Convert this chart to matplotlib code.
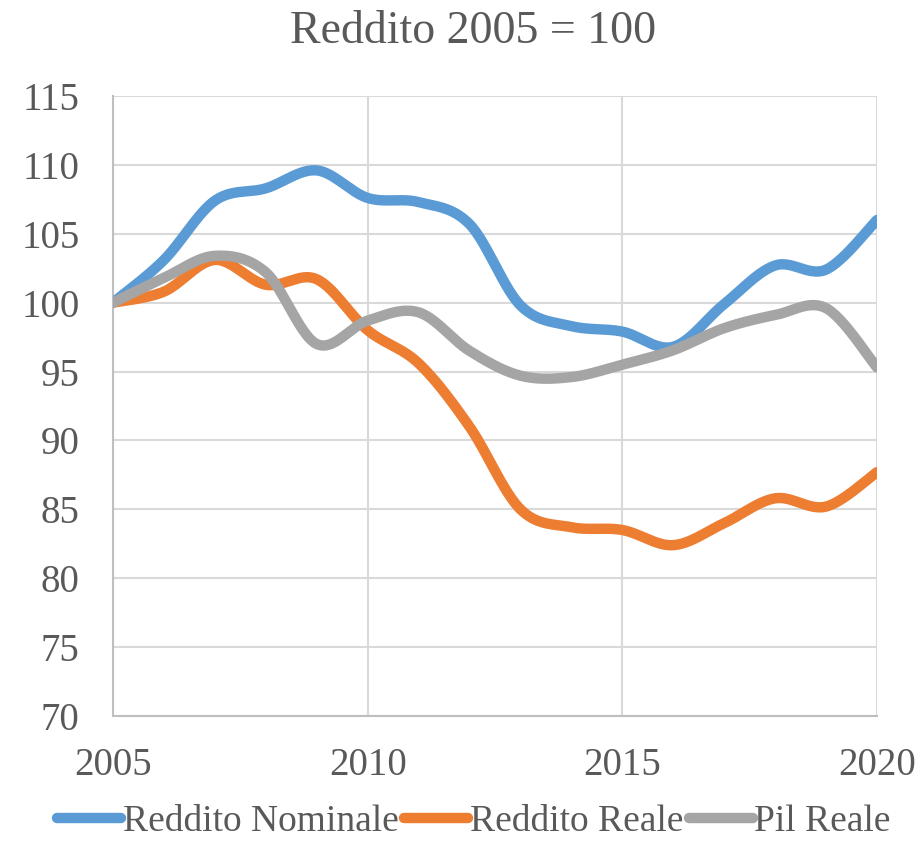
import numpy as np
import matplotlib
matplotlib.use("Agg")
from matplotlib import pyplot as plt

plt.rcParams['font.family'] = ['Liberation Serif', 'DejaVu Serif']

# Data (index, 2005 = 100)
years = list(range(2005, 2021))
nominale = [100, 103.1, 107.4, 108.3, 109.6, 107.6, 107.3, 105.7, 99.8, 98.3,
            97.9, 96.8, 99.9, 102.7, 102.4, 106.0]
reale = [100, 100.8, 103.1, 101.3, 101.7, 98.0, 95.6, 91.0, 85.0, 83.7,
         83.5, 82.4, 84.0, 85.8, 85.2, 87.7]
pil = [100, 101.8, 103.4, 102.2, 97.0, 98.7, 99.3, 96.5, 94.7, 94.6,
       95.5, 96.55, 98.15, 99.1, 99.6, 95.3]
labels = ["Reddito Nominale", "Reddito Reale", "Pil Reale"]
colors = ["#5B9BD5", "#ED7D31", "#A5A5A5"]


def smooth(x, y, n=30):
    # Excel-like smoothed line: cubic Bezier through the points
    x = np.asarray(x, float)
    y = np.asarray(y, float)
    px = np.concatenate([[x[0]], x, [x[-1]]])
    py = np.concatenate([[y[0]], y, [y[-1]]])
    t = np.linspace(0, 1, n)
    xs, ys = [], []
    for i in range(1, len(px) - 2):
        p0 = np.array([px[i], py[i]])
        p3 = np.array([px[i + 1], py[i + 1]])
        p1 = p0 + (np.array([px[i + 1], py[i + 1]]) - np.array([px[i - 1], py[i - 1]])) / 6
        p2 = p3 - (np.array([px[i + 2], py[i + 2]]) - np.array([px[i], py[i]])) / 6
        b = ((1 - t) ** 3)[:, None] * p0 + (3 * (1 - t) ** 2 * t)[:, None] * p1 \
            + (3 * (1 - t) * t ** 2)[:, None] * p2 + (t ** 3)[:, None] * p3
        xs.extend(b[:, 0])
        ys.extend(b[:, 1])
    return xs, ys


fig = plt.figure(figsize=(9.19, 8.44), dpi=100)
ax = fig.add_axes([113 / 919, 1 - 716 / 844, (877 - 113) / 919, (716 - 96) / 844])

for series, lab, col in zip([nominale, reale, pil], labels, colors):
    sx, sy = smooth(years, series)
    ax.plot(sx, sy, color=col, lw=7.5, label=lab, solid_capstyle='round', zorder=3)

ax.set_xlim(2005, 2020)
ax.set_ylim(70, 115)
ax.set_xticks([2005, 2010, 2015, 2020])
ax.set_yticks(range(70, 116, 5))
ax.grid(True, color="#D9D9D9", lw=1.5, zorder=0)
for s in ['top', 'right']:
    ax.spines[s].set_visible(False)
for s in ['left', 'bottom']:
    ax.spines[s].set_color("#BFBFBF")
    ax.spines[s].set_linewidth(1.5)
ax.tick_params(length=0, labelsize=28, labelcolor="#595959")
ax.tick_params(axis='y', pad=24)
ax.tick_params(axis='x', pad=22)

fig.text(473 / 919, 1 - 32 / 844, "Reddito 2005 = 100", ha='center', va='center',
         fontsize=33, color="#595959")

leg = fig.legend(loc='center', bbox_to_anchor=(474 / 919, 1 - 822 / 844), ncol=3,
                 frameon=False, fontsize=27, handlelength=1.7, handletextpad=0.05,
                 columnspacing=0.15, labelcolor="#595959", borderpad=0.1)

fig.savefig("out.png", dpi=100)
